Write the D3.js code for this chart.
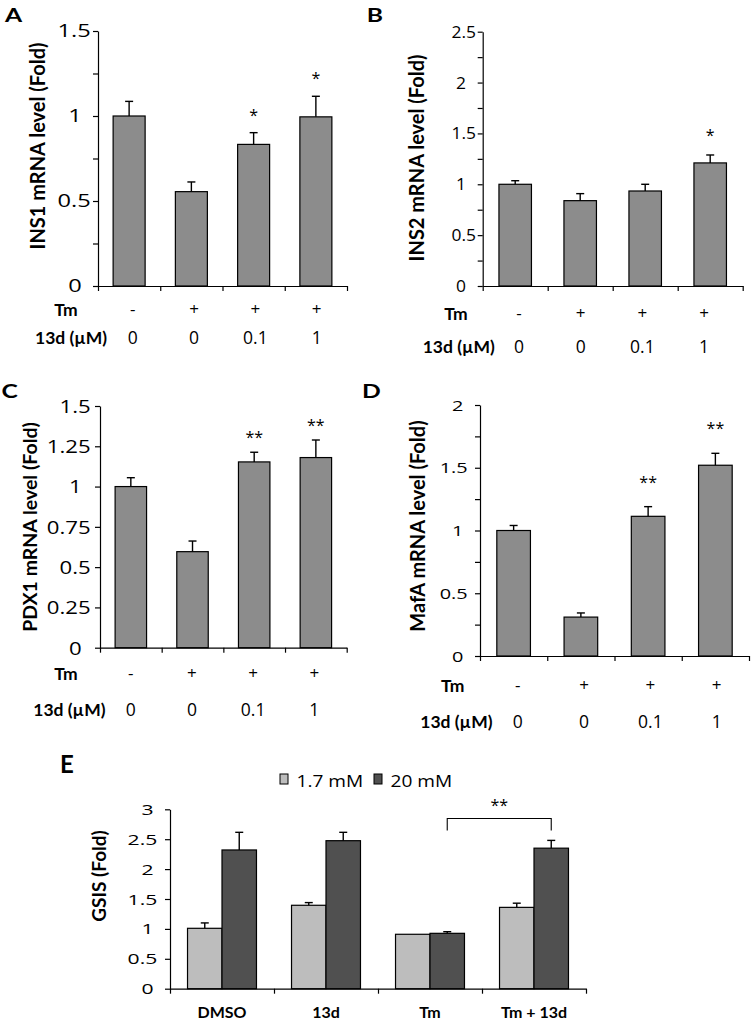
<!DOCTYPE html>
<html><head><meta charset="utf-8">
<script src="https://cdn.jsdelivr.net/npm/d3@7"></script>
<style>
body{margin:0;background:#fff}
svg{display:block}
text{font-family:"Open Sans",Lato,sans-serif;fill:#000}
text.b{font-family:Lato,"Open Sans",sans-serif}
</style>
</head><body>
<svg id="chart" width="752" height="1020"></svg>
<script>
// ---------- data ----------
const groups = ["g1", "g2", "g3", "g4"];
const tmLabels = ["-", "+", "+", "+"];
const d13Labels = ["0", "0", "0.1", "1"];
const tmTitle = "Tm";
const d13Title = "13d (\u00b5M)";

const ins1Mean = [1.0, 0.555, 0.833, 0.995];
const ins1Err  = [0.086, 0.057, 0.069, 0.121];
const ins1Sig  = ["", "", "*", "*"];

const ins2Mean = [1.0, 0.839, 0.934, 1.21];
const ins2Err  = [0.035, 0.069, 0.066, 0.078];
const ins2Sig  = ["", "", "", "*"];

const pdx1Mean = [1.0, 0.596, 1.153, 1.18];
const pdx1Err  = [0.055, 0.066, 0.06, 0.109];
const pdx1Sig  = ["", "", "**", "**"];

const mafaMean = [1.0, 0.31, 1.113, 1.52];
const mafaErr  = [0.04, 0.033, 0.077, 0.095];
const mafaSig  = ["", "", "**", "**"];

const gsisGroups = ["DMSO", "13d", "Tm", "Tm + 13d"];
const gsisSeries = ["1.7 mM", "20 mM"];
const gsisLow     = [1.01, 1.395, 0.91, 1.36];
const gsisLowErr  = [0.09, 0.045, 0, 0.07];
const gsisHigh    = [2.32, 2.475, 0.926, 2.35];
const gsisHighErr = [0.295, 0.14, 0.027, 0.13];
const gsisBracketGroups = ["Tm", "Tm + 13d"];
const gsisBracketLevels = [2.846, 2.645];   // bar top, leg end
const gsisBracketLabel = "**";

const ticksA = [0, 0.5, 1, 1.5],            minorA = [0.25, 0.75, 1.25];
const ticksB = [0, 0.5, 1, 1.5, 2, 2.5],    minorB = [0.25, 0.75, 1.25, 1.75, 2.25];
const ticksC = [0, 0.25, 0.5, 0.75, 1, 1.25, 1.5], minorC = [];
const ticksD = [0, 0.5, 1, 1.5, 2],         minorD = [0.25, 0.75, 1.25, 1.75];
const ticksE = [0, 0.5, 1, 1.5, 2, 2.5, 3];

// ---------- helpers ----------
const svg = d3.select("#chart");
const BAR = "#8c8c8c", LIGHT = "#bdbdbd", DARK = "#505050";
const STAR = 16;

function txt(parent, x, y, s, o = {}) {
  const t = parent.append("text")
    .attr("transform", `translate(${x},${y})` + (o.rotate ? ` rotate(${o.rotate})` : "") + ` scale(${o.sx || 1},${o.sy || 1})`)
    .attr("text-anchor", o.anchor || "start")
    .attr("font-size", o.size || 16)
    .attr("font-weight", o.weight || "normal")
    .text(s);
  if (o.weight === "bold") t.attr("class", "b");
  if (o.dy) t.attr("dy", o.dy);
  return t;
}

function star(g, cx, cy, s) {
  txt(g, cx, cy + STAR * 0.56, s, { anchor: "middle", size: STAR });
}

function yAxis(g, y, x0, ticks, minors, tl) {
  g.append("g").attr("transform", `translate(${x0},0)`)
    .call(d3.axisLeft(y).tickValues(ticks.concat(minors)).tickSize(5).tickSizeOuter(0).tickFormat(""))
    .call(s => s.selectAll("path,line").attr("stroke", "#000").attr("stroke-width", 1.2));
  ticks.forEach(v => {
    const isInt = Number.isInteger(v);
    txt(g, tl.R - (isInt ? tl.intOff : 0), y(v), String(v),
      { anchor: "end", size: tl.size, sx: tl.sx, dy: "0.37em" });
  });
}

function xAxis(g, x0, x1, yb, n) {
  const xl = d3.scaleLinear().domain([0, n]).range([x0, x1]);
  g.append("g").attr("transform", `translate(0,${yb})`)
    .call(d3.axisBottom(xl).tickValues(d3.range(n + 1)).tickSize(5).tickSizeOuter(0).tickFormat(""))
    .call(s => s.selectAll("path,line").attr("stroke", "#000").attr("stroke-width", 1.2));
}

function errBar(g, cx, yTop, yErr, cap) {
  g.append("line").attr("x1", cx).attr("x2", cx).attr("y1", yTop).attr("y2", yErr)
    .attr("stroke", "#000").attr("stroke-width", 1.4);
  g.append("line").attr("x1", cx - cap).attr("x2", cx + cap).attr("y1", yErr).attr("y2", yErr)
    .attr("stroke", "#000").attr("stroke-width", 1.4);
}

// ---------- panels A-D ----------
function panel(cfg, mean, err, sig) {
  const g = svg.append("g");
  const y = d3.scaleLinear().domain([0, cfg.max]).range([cfg.yBot, cfg.yTop]);
  const xb = d3.scaleBand().domain(groups).range([cfg.x0, cfg.x1]);
  const w = xb.bandwidth() * cfg.barFrac;

  groups.forEach((k, i) => {
    const cx = xb(k) + xb.bandwidth() / 2;
    g.append("rect").attr("x", cx - w / 2).attr("y", y(mean[i]))
      .attr("width", w).attr("height", y(0) - y(mean[i]))
      .attr("fill", BAR).attr("stroke", "#000").attr("stroke-width", 1.2);
    errBar(g, cx, y(mean[i]), y(mean[i] + err[i]), 4);
    if (sig[i]) star(g, cx, y(mean[i] + err[i]) - cfg.starGap, sig[i]);
  });

  yAxis(g, y, cfg.x0, cfg.ticks, cfg.minors, cfg.tl);
  xAxis(g, cfg.x0, cfg.x1, cfg.yBot, groups.length);

  txt(g, cfg.title.x, (cfg.yTop + cfg.yBot) / 2 + cfg.title.dyc, cfg.title.text,
    { rotate: -90, anchor: "middle", size: cfg.title.size, weight: "bold" });
  txt(g, cfg.letter.x, cfg.letter.y, cfg.letter.text, { size: 19, weight: "bold", sx: 1.3 });

  const xp = d3.scalePoint().domain(groups).range(cfg.rows.span);
  txt(g, cfg.rows.tmX, cfg.rows.tmY, tmTitle, { size: 17.5, weight: "bold" });
  txt(g, cfg.rows.dX, cfg.rows.dY, d13Title, { size: 17.5, weight: "bold" });
  groups.forEach((k, i) => {
    txt(g, xp(k), cfg.rows.tmY - 1, tmLabels[i], { anchor: "middle", size: 17 });
    txt(g, xp(k), cfg.rows.dY, d13Labels[i], { anchor: "middle", size: 17.5 });
  });
}

panel({ x0: 98, x1: 347, yTop: 31, yBot: 286, max: 1.5, barFrac: 0.514,
  ticks: ticksA, minors: minorA, tl: { R: 90.7, intOff: 9, size: 17.5, sx: 1.35 },
  title: { text: "INS1 mRNA level (Fold)", x: 45, dyc: -12.5, size: 20 },
  letter: { text: "A", x: 5, y: 21.7 }, starGap: 21,
  rows: { tmX: 54.3, tmY: 316, dX: 35, dY: 344, span: [132.7, 316.7] } },
  ins1Mean, ins1Err, ins1Sig);

panel({ x0: 482.7, x1: 742.7, yTop: 31.7, yBot: 286, max: 2.5, barFrac: 0.5,
  ticks: ticksB, minors: minorB, tl: { R: 476, intOff: 10, size: 16.3, sx: 1.07 },
  title: { text: "INS2 mRNA level (Fold)", x: 424, dyc: -0.9, size: 20 },
  letter: { text: "B", x: 366.7, y: 21.7 }, starGap: 23,
  rows: { tmX: 444.3, tmY: 319.5, dX: 422.7, dY: 353, span: [519, 704] } },
  ins2Mean, ins2Err, ins2Sig);

panel({ x0: 100, x1: 346.7, yTop: 406, yBot: 647.7, max: 1.5, barFrac: 0.51,
  ticks: ticksC, minors: minorC, tl: { R: 90.7, intOff: 9, size: 18.5, sx: 1.2 },
  title: { text: "PDX1 mRNA level (Fold)", x: 37, dyc: 0.1, size: 19.5 },
  letter: { text: "C", x: 1.5, y: 398 }, starGap: 18,
  rows: { tmX: 54.3, tmY: 680, dX: 33.3, dY: 716, span: [130.7, 314.3] } },
  pdx1Mean, pdx1Err, pdx1Sig);

panel({ x0: 480, x1: 749, yTop: 405, yBot: 656, max: 2, barFrac: 0.5,
  ticks: ticksD, minors: minorD, tl: { R: 467.7, intOff: 4.4, size: 15.3, sx: 1.3 },
  title: { text: "MafA mRNA level (Fold)", x: 425, dyc: -4.5, size: 20 },
  letter: { text: "D", x: 362, y: 398 }, starGap: 28,
  rows: { tmX: 441, tmY: 692, dX: 420.3, dY: 727.5, span: [517.7, 716.7] } },
  mafaMean, mafaErr, mafaSig);

// ---------- panel E ----------
(function () {
  const g = svg.append("g");
  const x0 = 170, x1 = 586, yTop = 809.3, yBot = 988.7;
  const y = d3.scaleLinear().domain([0, 3]).range([yBot, yTop]);
  const xb = d3.scaleBand().domain(gsisGroups).range([x0, x1]);
  const groupW = xb.bandwidth() * 0.663;
  const xs = d3.scaleBand().domain(gsisSeries).range([0, groupW]);
  const color = d3.scaleOrdinal().domain(gsisSeries).range([LIGHT, DARK]);
  const vals = [gsisLow, gsisHigh], errs = [gsisLowErr, gsisHighErr];

  gsisGroups.forEach((k, i) => {
    const gx = xb(k) + (xb.bandwidth() - groupW) / 2;
    gsisSeries.forEach((s, j) => {
      const v = vals[j][i], e = errs[j][i];
      const bx = gx + xs(s);
      g.append("rect").attr("x", bx).attr("y", y(v)).attr("width", xs.bandwidth())
        .attr("height", y(0) - y(v)).attr("fill", color(s)).attr("stroke", "#000").attr("stroke-width", 1.2);
      if (e > 0) errBar(g, bx + xs.bandwidth() / 2, y(v), y(v + e), 4);
    });
  });

  yAxis(g, y, x0, ticksE, [], { R: 157.3, intOff: 3.6, size: 14.9, sx: 1.42 });
  xAxis(g, x0, x1, yBot, gsisGroups.length);

  gsisGroups.forEach(k => {
    txt(g, xb(k) + xb.bandwidth() / 2, 1018, k, { anchor: "middle", size: 16, weight: "bold" });
  });

  // bracket
  const bcx = gsisBracketGroups.map(k => xb(k) + (xb.bandwidth() - groupW) / 2 + xs("20 mM") + xs.bandwidth() / 2);
  g.append("path")
    .attr("d", `M${bcx[0]},${y(gsisBracketLevels[1])}V${y(gsisBracketLevels[0])}H${bcx[1]}V${y(gsisBracketLevels[1])}`)
    .attr("fill", "none").attr("stroke", "#000").attr("stroke-width", 1.1);
  star(g, (bcx[0] + bcx[1]) / 2, y(gsisBracketLevels[0]) - 16, gsisBracketLabel);

  // legend
  const lx = [280, 374];
  gsisSeries.forEach((s, j) => {
    g.append("rect").attr("x", lx[j]).attr("y", 774).attr("width", 8).attr("height", 10)
      .attr("fill", color(s)).attr("stroke", "#000").attr("stroke-width", 1);
    txt(g, lx[j] + 16.5, 786.5, s, { size: 16.2, sx: 1.18 });
  });

  txt(g, 106, 876, "GSIS (Fold)", { rotate: -90, anchor: "middle", size: 19, weight: "bold" });
  txt(g, 60, 773.4, "E", { size: 24, weight: "bold" });
})();
</script>
</body></html>
